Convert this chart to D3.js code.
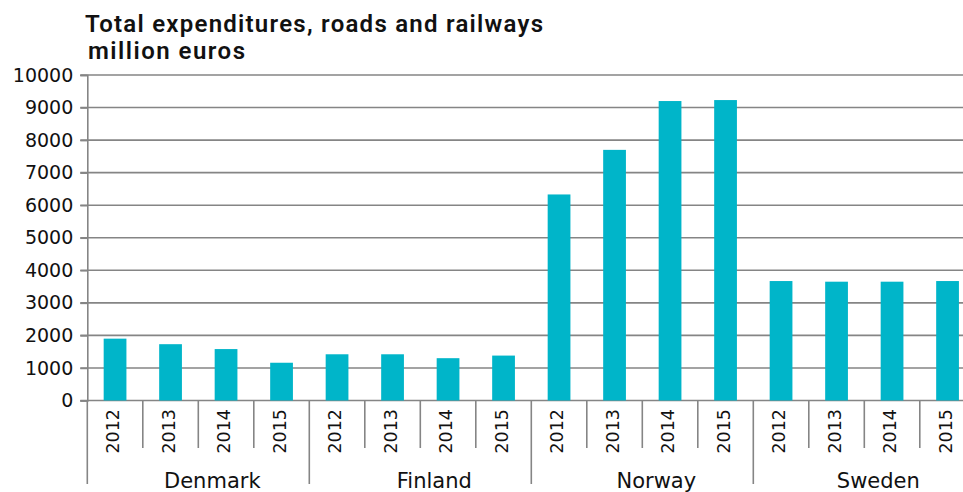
<!DOCTYPE html>
<html>
<head>
<meta charset="utf-8">
<script src="https://cdn.jsdelivr.net/npm/d3@7/dist/d3.min.js"></script>
<style>
  html, body { margin: 0; padding: 0; background: #fff; }
  svg { display: block; }
</style>
</head>
<body>
<svg id="chart" width="963" height="492"></svg>
<script>
// Total expenditures on roads and railways, million euros
const countries = ["Denmark", "Finland", "Norway", "Sweden"];
const years = ["2012", "2013", "2014", "2015"];
const denmark = [1900, 1730, 1580, 1160];
const finland = [1420, 1420, 1300, 1380];
const norway  = [6330, 7700, 9200, 9230];
const sweden  = [3670, 3650, 3650, 3670];
const yTicks = [0, 1000, 2000, 3000, 4000, 5000, 6000, 7000, 8000, 9000, 10000];

const seriesByCountry = [denmark, finland, norway, sweden];
const rows = [];
countries.forEach((c, ci) => {
  years.forEach((yr, yi) => rows.push({ country: c, year: yr, key: c + "-" + yr, value: seriesByCountry[ci][yi] }));
});

const svg = d3.select("#chart");
const plotLeft = 87.3, plotRight = 975.3, plotTop = 75, plotBottom = 400.5;
const barColor = "#00B5C9";
const gridColor = "#858585";

const x = d3.scaleBand()
  .domain(rows.map(d => d.key))
  .range([plotLeft, plotRight])
  .paddingInner(0.59)
  .paddingOuter(0.295);

const y = d3.scaleLinear().domain([0, 10000]).range([plotBottom, plotTop]);

// Title (two lines)
const titleFont = "Roboto, 'Liberation Sans', sans-serif";
svg.append("text")
  .attr("x", 85).attr("y", 32)
  .attr("font-family", titleFont)
  .attr("font-weight", 600)
  .attr("font-size", 24)
  .attr("textLength", 458)
  .attr("lengthAdjust", "spacing")
  .attr("fill", "#111")
  .text("Total expenditures, roads and railways");
svg.append("text")
  .attr("x", 88).attr("y", 58.5)
  .attr("font-family", titleFont)
  .attr("font-weight", 600)
  .attr("font-size", 24)
  .attr("textLength", 157)
  .attr("lengthAdjust", "spacing")
  .attr("fill", "#111")
  .text("million euros");

// Horizontal gridlines
svg.append("g")
  .selectAll("line")
  .data(yTicks)
  .join("line")
  .attr("x1", plotLeft - 7).attr("x2", 963)
  .attr("y1", d => y(d)).attr("y2", d => y(d))
  .attr("stroke", gridColor)
  .attr("stroke-width", 1.6);

// Y axis
const yAxis = d3.axisLeft(y).tickValues(yTicks).tickFormat(d3.format("d")).tickSize(7).tickPadding(7);
const gy = svg.append("g").attr("transform", `translate(${plotLeft},0)`).call(yAxis);
gy.select(".domain").attr("stroke", gridColor).attr("stroke-width", 1.6);
gy.selectAll(".tick line").attr("stroke", gridColor).attr("stroke-width", 1.6);
gy.selectAll(".tick text")
  .attr("font-family", "'DejaVu Sans', sans-serif")
  .attr("font-size", 19)
  .attr("fill", "#111");

// Bars
svg.append("g")
  .selectAll("rect")
  .data(rows)
  .join("rect")
  .attr("x", d => x(d.key))
  .attr("width", x.bandwidth())
  .attr("y", d => y(d.value))
  .attr("height", d => y(0) - y(d.value))
  .attr("fill", barColor);

// Category axis: year dividers, year labels, country dividers and labels
const step = x.step();
const bandStart = d => x(d.key) - x.paddingInner() * step / 2;

svg.append("g")
  .selectAll("line")
  .data(rows.filter(d => d.year !== "2012"))
  .join("line")
  .attr("x1", d => bandStart(d)).attr("x2", d => bandStart(d))
  .attr("y1", plotBottom).attr("y2", 448)
  .attr("stroke", gridColor).attr("stroke-width", 1.6);

svg.append("g")
  .selectAll("line")
  .data(countries.concat(["end"]))
  .join("line")
  .attr("x1", (d, i) => plotLeft + i * 4 * step).attr("x2", (d, i) => plotLeft + i * 4 * step)
  .attr("y1", plotBottom).attr("y2", 484)
  .attr("stroke", gridColor).attr("stroke-width", 1.6);

svg.append("g")
  .selectAll("text")
  .data(rows)
  .join("text")
  .attr("transform", d => `translate(${x(d.key) + x.bandwidth() / 2 - 2},409) rotate(-90)`)
  .attr("text-anchor", "end")
  .attr("dominant-baseline", "central")
  .attr("font-family", "'DejaVu Sans', sans-serif")
  .attr("font-size", 17.5)
  .attr("fill", "#111")
  .text(d => d.year);

svg.append("g")
  .selectAll("text")
  .data(countries)
  .join("text")
  .attr("x", (d, i) => plotLeft + (i * 4 + 2) * step + 14)
  .attr("y", 488)
  .attr("text-anchor", "middle")
  .attr("font-family", "'DejaVu Sans', sans-serif")
  .attr("font-size", 21)
  .attr("fill", "#111")
  .text(d => d);
</script>
</body>
</html>
